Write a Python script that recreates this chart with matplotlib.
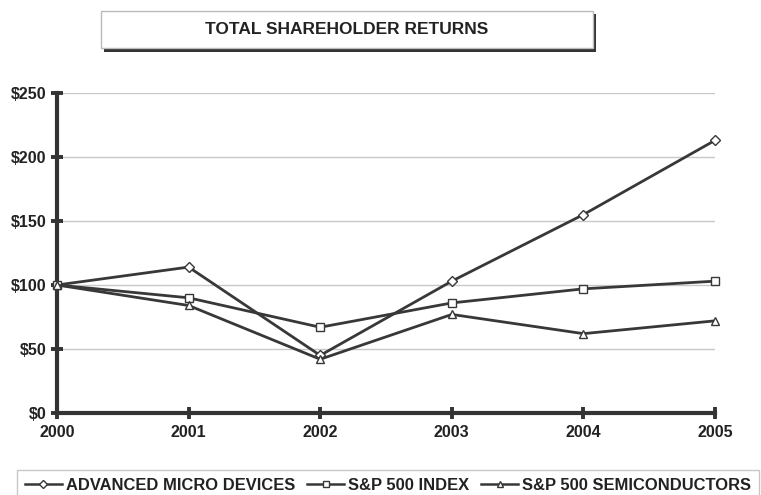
import matplotlib
matplotlib.use("Agg")
import matplotlib.pyplot as plt
from matplotlib.patches import Rectangle
from matplotlib.ticker import FuncFormatter

years = [2000, 2001, 2002, 2003, 2004, 2005]
amd = [100, 114, 45, 103, 155, 213]
sp500 = [100, 90, 67, 86, 97, 103]
semis = [100, 84, 42, 77, 62, 72]
series_names = ["ADVANCED MICRO DEVICES", "S&P 500 INDEX", "S&P 500 SEMICONDUCTORS"]
title = "TOTAL SHAREHOLDER RETURNS"
yticks = [0, 50, 100, 150, 200, 250]

plt.rcParams['font.family'] = ['Liberation Sans', 'DejaVu Sans']
plt.rcParams['font.weight'] = 'bold'

W, H = 761, 495
fig = plt.figure(figsize=(W / 100, H / 100), dpi=100)
fig.patch.set_facecolor('white')

ax = fig.add_axes([57 / W, (H - 413) / H, (715 - 57) / W, (413 - 93) / H])
lc = '#383838'
markers = ['D', 's', '^']
msizes = [5, 6, 6]
for vals, name, m, ms in zip([amd, sp500, semis], series_names, markers, msizes):
    ax.plot(years, vals, color=lc, lw=2, marker=m, ms=ms, mfc='white',
            mec=lc, mew=1.0, label=name, clip_on=False, zorder=3)

ax.set_xlim(2000, 2005)
ax.set_ylim(0, 250)
ax.set_xticks(years)
ax.set_yticks(yticks)
ax.yaxis.set_major_formatter(FuncFormatter(lambda v, p: f"${int(v)}"))
ax.grid(axis='y', color='#c8c8c8', lw=1)
ax.set_axisbelow(True)
for s in ['top', 'right']:
    ax.spines[s].set_visible(False)
for s in ['left', 'bottom']:
    ax.spines[s].set_linewidth(3)
    ax.spines[s].set_color('#333333')
ax.tick_params(axis='both', direction='inout', length=9, width=2.8, color='#333333',
               labelsize=11.5, labelcolor='#222222')
ax.tick_params(axis='y', pad=3)
ax.tick_params(axis='x', pad=4)
for lab in ax.get_xticklabels() + ax.get_yticklabels():
    lab.set_fontweight('bold')

# title box with shadow
fig.patches.append(Rectangle((104 / W, (H - 52) / H), (596 - 104) / W, (52 - 14) / H,
                             transform=fig.transFigure, facecolor='#333333',
                             edgecolor='none', zorder=1))
fig.patches.append(Rectangle((101 / W, (H - 48) / H), (593 - 101) / W, (48 - 11) / H,
                             transform=fig.transFigure, facecolor='white',
                             edgecolor='#bbbbbb', lw=1, zorder=2))
fig.text((101 + 593) / 2 / W, (H - 30) / H, title, ha='center', va='center',
         fontsize=12.5, fontweight='bold', color='#222222', zorder=3)

leg = fig.legend(loc='upper left', bbox_to_anchor=(17 / W, (H - 470) / H), ncol=3,
                 frameon=True, fancybox=False, edgecolor='#bbbbbb', fontsize=11.9,
                 handlelength=2.2, handletextpad=0.25, columnspacing=0.75,
                 borderpad=0.5, borderaxespad=0)
leg.get_frame().set_linewidth(1)
for h in leg.legend_handles:
    h.set_linewidth(1.8)
    h.set_markersize(4.5)
for t in leg.get_texts():
    t.set_fontweight('bold')
    t.set_color('#222222')

fig.savefig('out.png', dpi=100, facecolor='white')
